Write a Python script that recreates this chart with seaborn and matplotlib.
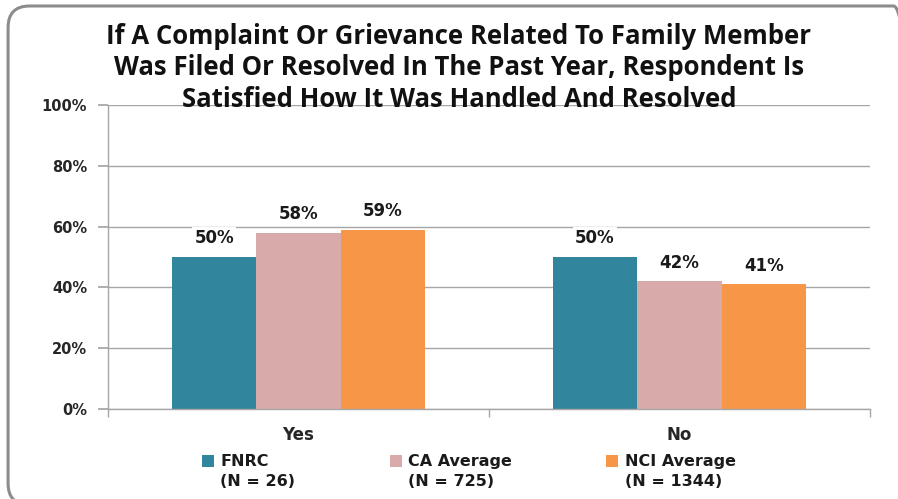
import matplotlib
matplotlib.use("Agg")
import matplotlib.pyplot as plt
import seaborn as sns
import pandas as pd
from matplotlib.patches import FancyBboxPatch, Patch, Rectangle
from matplotlib.legend_handler import HandlerPatch
from matplotlib.ticker import FuncFormatter, FixedLocator

categories = ["Yes", "No"]
series = ["FNRC", "CA Average", "NCI Average"]
series_n = ["(N = 26)", "(N = 725)", "(N = 1344)"]
fnrc = [50, 50]
ca_avg = [58, 42]
nci_avg = [59, 41]
yticks = [0, 20, 40, 60, 80, 100]
colors = ["#31859C", "#D9AAAA", "#F79646"]
title = ("If A Complaint Or Grievance Related To Family Member\n"
         "Was Filed Or Resolved In The Past Year, Respondent Is\n"
         "Satisfied How It Was Handled And Resolved")

rows = []
for name, vals in zip(series, [fnrc, ca_avg, nci_avg]):
    for c, v in zip(categories, vals):
        rows.append({"Response": c, "Group": name, "Value": v})
df = pd.DataFrame(rows)

sns.set_theme(style="white")
plt.rcParams["font.family"] = ["DejaVu Sans"]

fig = plt.figure(figsize=(8.98, 4.99), dpi=100)
ax = fig.add_axes([0.1203, 0.1804, 0.8485, 0.6092])

sns.barplot(data=df, x="Response", y="Value", hue="Group", order=categories,
            hue_order=series, palette=colors, width=0.665, saturation=1,
            linewidth=0, ax=ax, legend=False)

ax.set_ylim(0, 100)
ax.set_xlim(-0.5, 1.5)
ax.yaxis.set_major_locator(FixedLocator(yticks))
ax.yaxis.set_major_formatter(FuncFormatter(lambda v, p: f"{v:.0f}%"))
ax.grid(axis="y", color="#A6A6A6", linewidth=1)
ax.set_axisbelow(True)
for s in ["top", "right"]:
    ax.spines[s].set_visible(False)
for s in ["left", "bottom"]:
    ax.spines[s].set_color("#A6A6A6")
    ax.spines[s].set_linewidth(1)
ax.tick_params(axis="y", which="both", left=True, length=7, color="#A6A6A6",
               labelsize=10.5, pad=8)
ax.tick_params(axis="x", bottom=False, labelsize=12, pad=6)
for lab in ax.get_yticklabels() + ax.get_xticklabels():
    lab.set_fontweight("bold")
ax.set_xticks([-0.5, 0.5, 1.5], minor=True)
ax.tick_params(axis="x", which="minor", bottom=True, length=6, color="#A6A6A6")
ax.set_xlabel("")
ax.set_ylabel("")

for cont in ax.containers:
    ax.bar_label(cont, labels=[f"{v:.0f}%" for v in cont.datavalues],
                 padding=7, fontsize=12, fontweight="bold", color="#1A1A1A",
                 bbox=dict(facecolor="white", edgecolor="none", pad=1.5))

fig.text(0.511, 0.864, title, ha="center", va="center", fontsize=18.5,
         fontweight="bold", family=["Open Sans", "DejaVu Sans"],
         linespacing=1.2, color="#111111")


class RaisedSquare(HandlerPatch):
    def create_artists(self, legend, orig_handle, xdescent, ydescent,
                       width, height, fontsize, trans):
        off = fontsize * 0.68
        r = Rectangle((-xdescent, -ydescent + off), width, height,
                      facecolor=orig_handle.get_facecolor(), edgecolor="none",
                      transform=trans)
        return [r]


handles = [Patch(facecolor=c, edgecolor="none") for c in colors]
labels = [f"{s}\n{n}" for s, n in zip(series, series_n)]
leg = fig.legend(handles, labels, ncol=3, loc="lower left",
                 bbox_to_anchor=(0.209, -0.008), frameon=False,
                 prop={"weight": "bold", "size": 11.5}, handlelength=0.75,
                 handleheight=0.75, columnspacing=5.9, handletextpad=0.4,
                 handler_map={Patch: RaisedSquare()})
for t in leg.get_texts():
    t.set_linespacing(1.35)
    t.set_color("#1A1A1A")

border = FancyBboxPatch((0.009, -0.012), 1.01, 1.0, transform=fig.transFigure,
                        boxstyle="round,pad=0,rounding_size=0.024",
                        mutation_aspect=898 / 499,
                        facecolor="none", edgecolor="#8C8C8C", linewidth=2.2,
                        clip_on=False)
fig.patches.append(border)

fig.savefig("out.png", dpi=100)
